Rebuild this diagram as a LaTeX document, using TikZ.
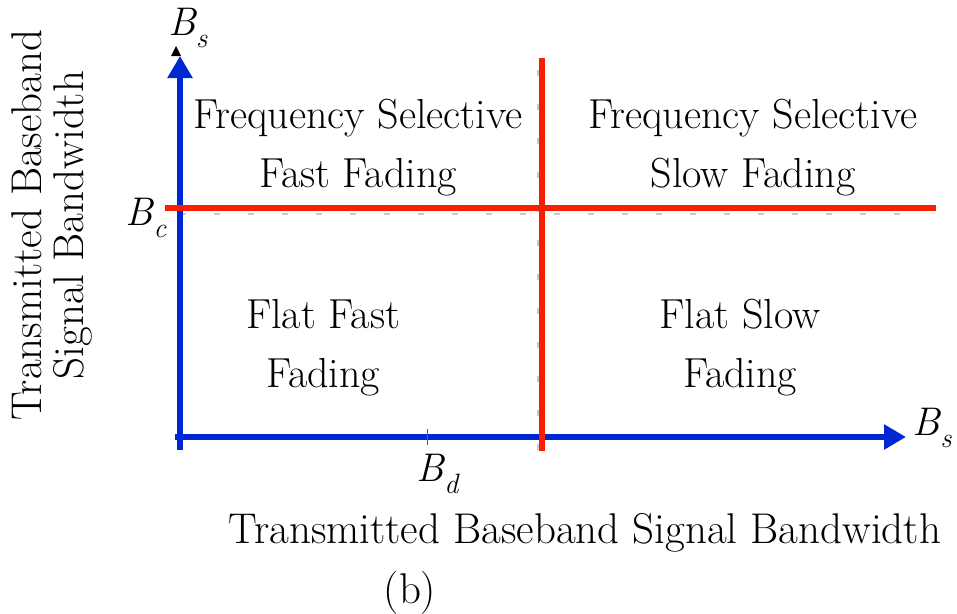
\documentclass[tikz,border=0pt]{standalone}
\usetikzlibrary{arrows.meta}
\definecolor{axblue}{RGB}{0,40,210}
\definecolor{lred}{RGB}{250,30,0}
\newcommand{\Blab}[1]{\textit{B}\kern-0.02em\raisebox{-0.28em}{\fontsize{28}{30}\selectfont\textit{#1}}}
\begin{document}
\begin{tikzpicture}[x=1pt,y=-1pt,
  region/.style={font=\fontsize{42}{59}\selectfont, align=center, inner sep=0pt},
  axlab/.style={font=\fontsize{40}{48}\selectfont, inner sep=0pt},
  caption/.style={font=\fontsize{43}{53}\selectfont, inner sep=0pt},
  ycaption/.style={font=\fontsize{43}{42}\selectfont, inner sep=0pt, rotate=90, align=center},
  axis/.style={draw=axblue, line width=6pt, -{Triangle[length=22pt,width=24pt]}},
  boundary/.style={draw=lred, line width=6pt},
  ghost/.style={draw=gray!40, line width=1.5pt, dash pattern=on 6pt off 28pt}]
\useasboundingbox (0,0) rectangle (957,613);
% original faint dashed grid
\coordinate (gh1) at (180,214); \coordinate (gh2) at (900,214);
\coordinate (gv1) at (538,70); \coordinate (gv2) at (538,450);
\draw[ghost] (gh1) -- (gh2);
\draw[ghost] (gv1) -- (gv2);
% axes
\coordinate (O) at (180,450);
\coordinate (Ox) at (175,437);
\coordinate (Ytop) at (180,56);
\coordinate (Xend) at (906,437);
\coordinate (blk) at (176,50);
\fill (blk) ++(-5,6) -- ++(5,-10) -- ++(5,10) -- cycle;
\draw[axis] (O) -- (Ytop);
\draw[axis] (Ox) -- (Xend);
% ticks
\coordinate (td1) at (427,429); \coordinate (td2) at (427,445);
\draw[line width=1pt, gray!70!black] (td1) -- (td2);
% boundaries
\coordinate (h1) at (165,208); \coordinate (h2) at (936,208);
\coordinate (v1) at (542,58); \coordinate (v2) at (542,451);
\draw[boundary] (h1) -- (h2);
\draw[boundary] (v1) -- (v2);
% axis labels
\node[axlab] (bsy) at (188,28) {\Blab{s}};
\node[axlab] (bsx) at (932,428) {\Blab{s}};
\node[axlab] (bc) at (146,218) {\Blab{c}};
\node[axlab] (bd) at (438,474) {\Blab{d}};
% regions
\node[region] (fsf) at (358,148) {Frequency Selective\\Fast Fading};
\node[region] (fss) at (753,148) {Frequency Selective\\Slow Fading};
\node[region] (fff) at (323,348) {Flat Fast\\Fading};
\node[region] (ffs) at (740,348) {Flat Slow\\Fading};
% axis titles
\node[ycaption] (ytitle) at (52,225) {Transmitted Baseband\\Signal Bandwidth};
\node[caption] (xtitle) at (585,533) {Transmitted Baseband Signal Bandwidth};
\node[caption] (b) at (410,593) {(b)};
\end{tikzpicture}
\end{document}
